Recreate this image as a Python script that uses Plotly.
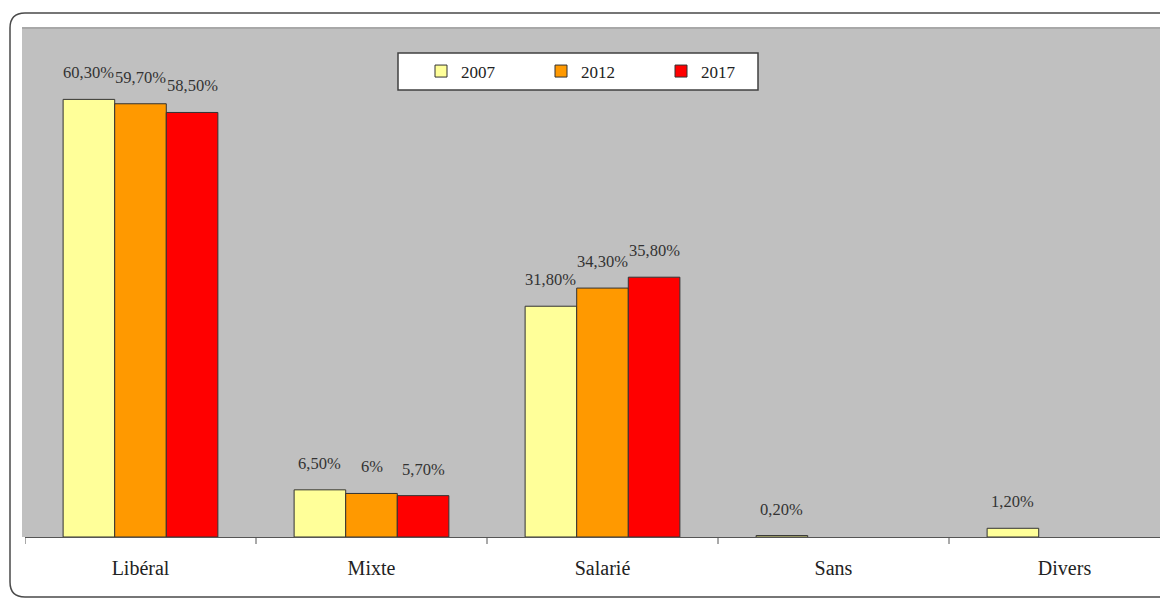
import plotly.graph_objects as go

categories = ["Libéral", "Mixte", "Salarié", "Sans", "Divers"]
years = ["2007", "2012", "2017"]
v2007 = [60.3, 6.5, 31.8, 0.2, 1.2]
v2012 = [59.7, 6.0, 34.3, None, None]
v2017 = [58.5, 5.7, 35.8, None, None]
labels2007 = ["60,30%", "6,50%", "31,80%", "0,20%", "1,20%"]
labels2012 = ["59,70%", "6%", "34,30%", None, None]
labels2017 = ["58,50%", "5,70%", "35,80%", None, None]
colors = ["#FFFF99", "#FF9900", "#FF0000"]

series = [v2007, v2012, v2017]
labels = [labels2007, labels2012, labels2017]

OFF = 8  # body margin of the html page
W, H = 1160, 591
L, R, T, B = 25 - OFF, 0, 29 - OFF, 599 - 537
pw, ph = W - L - R, H - T - B

def px(x):  # page pixel -> paper
    return (x - OFF - L) / pw

def py(y):
    return (H - B - (y - OFF)) / ph

fig = go.Figure()
bargap = 0.33
for name, vals, col in zip(years, series, colors):
    fig.add_trace(go.Bar(
        x=list(range(len(categories))), y=vals, name=name,
        marker=dict(color=col, line=dict(color="#333333", width=1)),
        textposition="none", hoverinfo="skip",
    ))

slot = (1 - bargap) / 3
annotations = []
for j, (vals, labs) in enumerate(zip(series, labels)):
    for i, (v, t) in enumerate(zip(vals, labs)):
        if v is None or t is None:
            continue
        annotations.append(dict(
            x=i + (j - 1) * slot, y=v, xref="x", yref="y", text=t,
            showarrow=False, yanchor="bottom", yshift=15,
            font=dict(family="Liberation Serif", size=16.5, color="#333333"),
        ))

# rounded outer frame
r_x, r_y = 15 / pw, 15 / ph
x0, x1 = px(10), px(1190)
y0, y1 = py(597), py(13)
path = (f"M {x0+r_x},{y1} L {x1},{y1} M {x0},{y1-r_y} Q {x0},{y1} {x0+r_x},{y1} "
        f"M {x0},{y1-r_y} L {x0},{y0+r_y} Q {x0},{y0} {x0+r_x},{y0} L {x1},{y0}")

shapes = [
    dict(type="path", xref="paper", yref="paper", path=path,
         line=dict(color="#4a4a4a", width=1.5)),
    dict(type="rect", xref="paper", yref="paper",
         x0=px(22), x1=1.0, y0=0, y1=1.0,
         fillcolor="#C0C0C0", line=dict(width=0), layer="below"),
    dict(type="line", xref="paper", yref="paper",
         x0=px(22), x1=1.0, y0=py(28), y1=py(28),
         line=dict(color="#a8a8a8", width=2)),
    dict(type="rect", xref="paper", yref="paper",
         x0=px(398), x1=px(758), y0=py(90), y1=py(53),
         fillcolor="white", line=dict(color="#404040", width=1.5)),
]

fig.update_layout(
    width=W, height=H,
    margin=dict(l=L, r=R, t=T, b=B),
    paper_bgcolor="white", plot_bgcolor="rgba(0,0,0,0)",
    barmode="group", bargap=bargap, bargroupgap=0,
    showlegend=True,
    legend=dict(orientation="h", x=px(421), y=py(71.5), xanchor="left", yanchor="middle",
                bgcolor="rgba(0,0,0,0)", borderwidth=0, entrywidth=75,
                font=dict(family="Liberation Serif", size=17, color="#222222"),
                traceorder="normal", itemclick=False),
    xaxis=dict(
        tickmode="array", tickvals=list(range(len(categories))), ticktext=categories,
        range=[-0.5, -0.5 + pw / 231.0],
        showgrid=False, zeroline=False, showline=True, linecolor="#555555", linewidth=1,
        ticks="", ticklabelstandoff=13,
        tickfont=dict(family="Liberation Serif", size=20, color="#222222"),
    ),
    yaxis=dict(range=[0, 70], visible=False, showgrid=False, zeroline=False),
    annotations=annotations,
    shapes=shapes,
)

# boundary tick marks
for k in range(len(categories) + 1):
    fig.add_shape(type="line", xref="x", yref="paper", x0=k - 0.5, x1=k - 0.5,
                  y0=0, y1=py(544), line=dict(color="#555555", width=1))

fig.write_html("out.html")
